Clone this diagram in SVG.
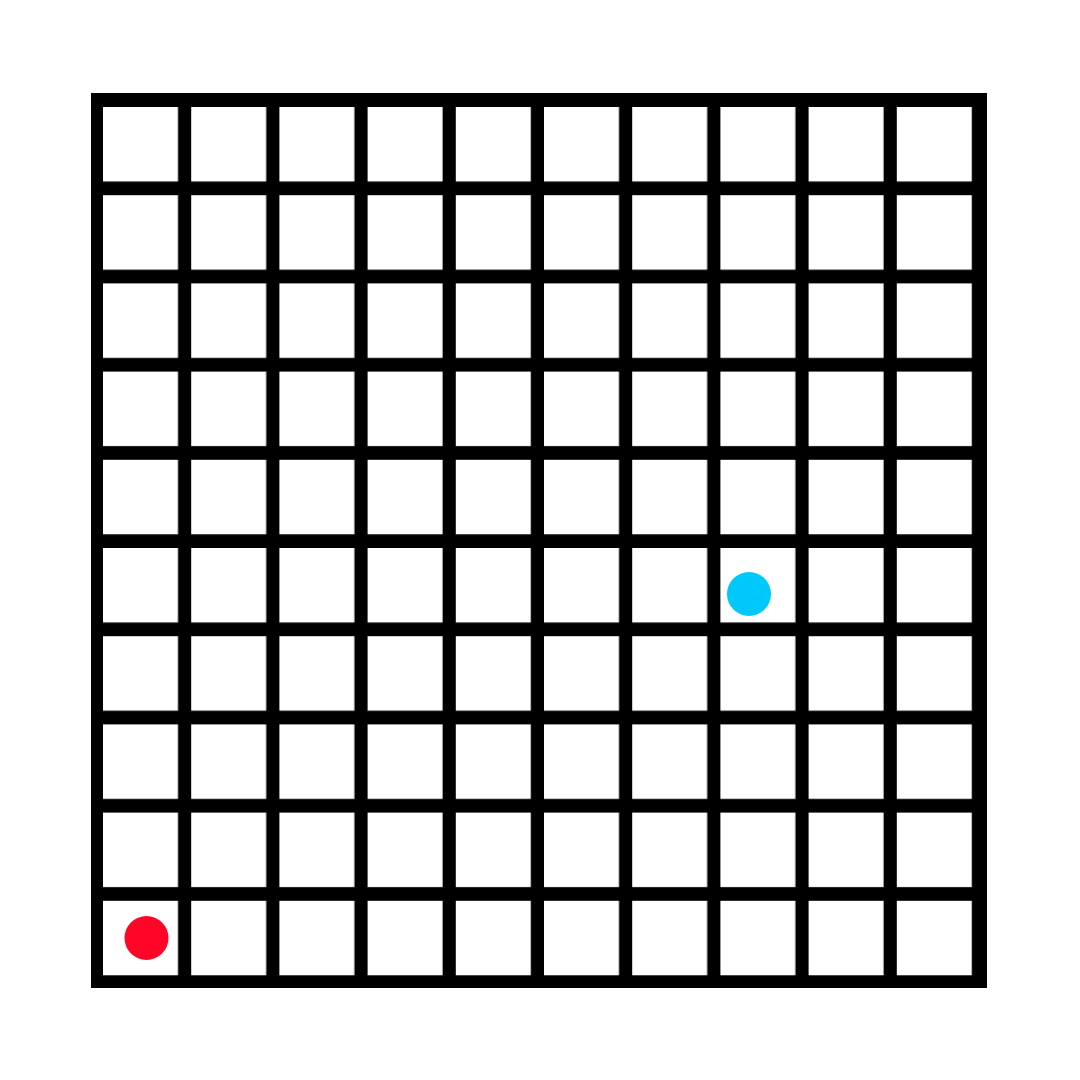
<svg xmlns="http://www.w3.org/2000/svg" width="1080" height="1080" viewBox="0 0 1080 1080">
<defs>
<style>
.c{fill:#ffffff}
</style>
<pattern id="grid" x="103" y="107" width="88.2" height="88.2" patternUnits="userSpaceOnUse">
<rect class="c" x="0" y="0" width="75" height="74.5"/>
</pattern>
</defs>
<rect width="1080" height="1080" fill="#ffffff"/>
<g id="board">
<rect x="91" y="93" width="896" height="895" fill="#000000"/>
<rect x="103" y="107" width="870" height="869" fill="url(#grid)"/>
</g>
<g id="tokens">
<circle id="blue" cx="749" cy="594" r="22" fill="#00C8FA"/>
<circle id="red" cx="146.5" cy="938" r="22" fill="#FF0527"/>
</g>
</svg>
